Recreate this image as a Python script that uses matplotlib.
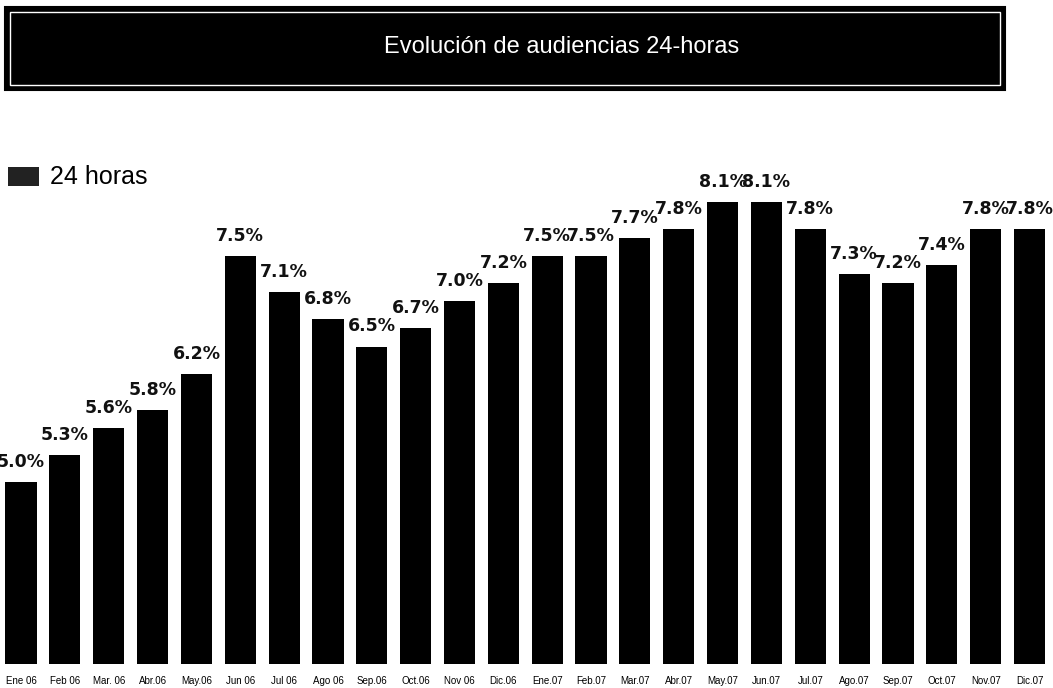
import matplotlib
matplotlib.use("Agg")
import matplotlib.pyplot as plt
from matplotlib.patches import Rectangle

months = ["Ene 06", "Feb 06", "Mar. 06", "Abr.06", "May.06", "Jun 06",
          "Jul 06", "Ago 06", "Sep.06", "Oct.06", "Nov 06", "Dic.06",
          "Ene.07", "Feb.07", "Mar.07", "Abr.07", "May.07", "Jun.07",
          "Jul.07", "Ago.07", "Sep.07", "Oct.07", "Nov.07", "Dic.07"]
audiencia_24h = [5.0, 5.3, 5.6, 5.8, 6.2, 7.5, 7.1, 6.8, 6.5, 6.7, 7.0, 7.2,
                 7.5, 7.5, 7.7, 7.8, 8.1, 8.1, 7.8, 7.3, 7.2, 7.4, 7.8, 7.8]
series_name = "24 horas"
title = "Evolución de audiencias 24-horas"

W, H = 1053, 688
fig = plt.figure(figsize=(W / 100, H / 100), dpi=100)
fig.patch.set_facecolor("white")

def fx(px):
    return px / W

def fy(py):
    return 1 - py / H

# Axes geometry (pixels)
step = 43.85
first_c = 21.0
ax_bottom_px, ax_top_px = 664, 100
v_bottom = 5.0 - (ax_bottom_px - 482) / 90.3
v_top = 5.0 + (482 - ax_top_px) / 90.3

ax = fig.add_axes([0, fy(ax_bottom_px), 1, (ax_bottom_px - ax_top_px) / H])
x = list(range(len(months)))
ax.bar(x, audiencia_24h, width=0.71, color="black", bottom=0)
ax.set_xlim(-first_c / step, (W - first_c) / step)
ax.set_ylim(v_bottom, v_top)
for s in ax.spines.values():
    s.set_visible(False)
ax.set_yticks([])
ax.set_xticks(x)
ax.set_xticklabels(months, fontsize=7, family="Liberation Sans")
ax.tick_params(axis="x", length=0, pad=9)
ax.patch.set_alpha(0)

for xi, v in zip(x, audiencia_24h):
    ax.annotate(f"{v:.1f}%", (xi, v), xytext=(0, 8), textcoords="offset points",
                ha="center", va="bottom", fontsize=12.5, fontweight="bold",
                family="DejaVu Sans", color="#111111", clip_on=False)

# Title box
fig.patches.append(Rectangle((fx(5), fy(90)), fx(1000), (90 - 7) / H,
                             transform=fig.transFigure, facecolor="black",
                             edgecolor="black", lw=1.5))
fig.patches.append(Rectangle((fx(10), fy(85)), fx(990), (85 - 12) / H,
                             transform=fig.transFigure, facecolor="none",
                             edgecolor="white", lw=1.0))
fig.text(fx(562), fy(47), title, color="white", ha="center", va="center",
         fontsize=17, family="Liberation Sans")

# Legend
fig.patches.append(Rectangle((fx(8), fy(186)), fx(31), 19 / H,
                             transform=fig.transFigure, facecolor="#222222",
                             edgecolor="none"))
fig.text(fx(50), fy(177), series_name, color="black", ha="left", va="center",
         fontsize=18, family="Liberation Sans")

fig.savefig("out.png", dpi=100)
